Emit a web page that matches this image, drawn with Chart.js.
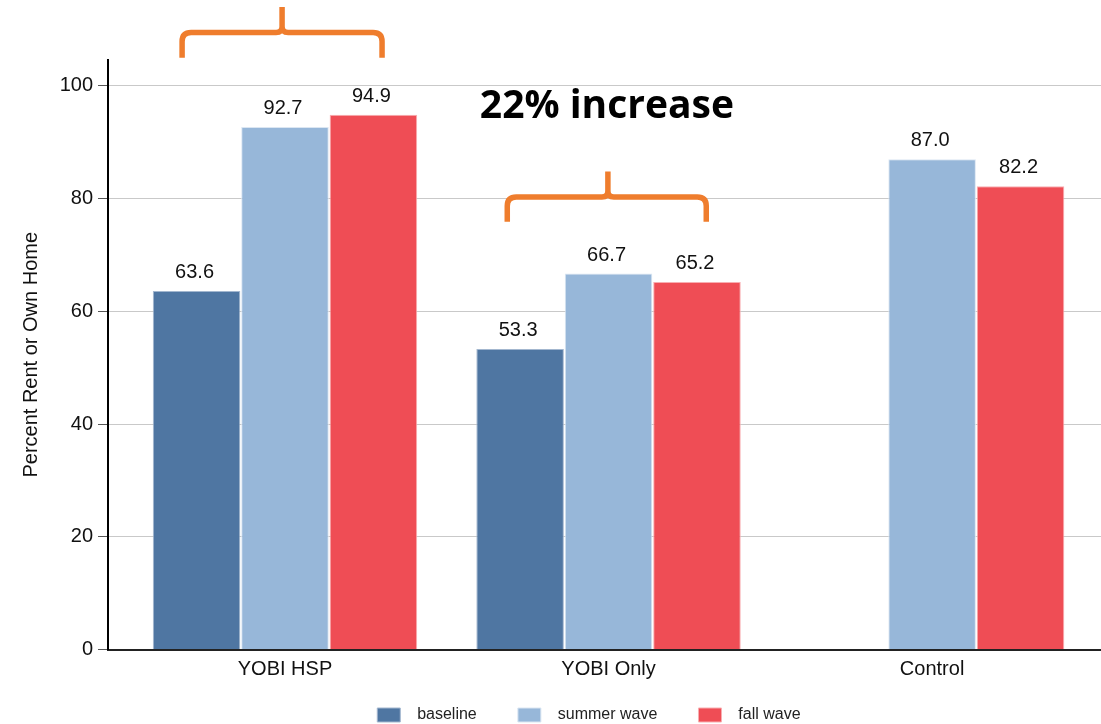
<!DOCTYPE html>
<html>
<head>
<meta charset="utf-8">
<script src="https://cdn.jsdelivr.net/npm/chart.js@4.4.1/dist/chart.umd.min.js"></script>
<style>
  html, body { margin: 0; padding: 0; background: #fff; }
  #wrap { width: 1101px; height: 724px; position: relative; }
</style>
</head>
<body>
<div id="wrap"><canvas id="rentChart"></canvas></div>
<script>
// values
const categories = ["YOBI HSP", "YOBI Only", "Control"];
const baseline = [63.6, 53.3, null];
const summerWave = [92.7, 66.7, 87.0];
const fallWave = [94.9, 65.2, 82.2];
const yTicks = [0, 20, 40, 60, 80, 100];

const toPoints = arr => arr.map((v, i) => ({ x: i, y: v }));

// numbers above bars
const valueLabels = {
  id: "valueLabels",
  afterDatasetsDraw(chart) {
    const ctx = chart.ctx;
    ctx.save();
    ctx.font = '20px "Liberation Sans", Arial, sans-serif';
    ctx.fillStyle = "#111";
    ctx.textAlign = "center";
    ctx.textBaseline = "alphabetic";
    chart.data.datasets.forEach((ds, i) => {
      chart.getDatasetMeta(i).data.forEach((bar, j) => {
        const v = ds.data[j].y;
        if (v == null) return;
        ctx.fillText(v.toFixed(1), bar.x - 2, bar.y - 13);
      });
    });
    ctx.restore();
  }
};

// orange braces + "22% increase" note
const notes = {
  id: "notes",
  afterDraw(chart) {
    const { ctx, scales: { x, y } } = chart;
    const braces = [
      { x1: -0.318, xm: -0.009, x2: 0.300, yLine: 109.5, yEnd: 105.0, yTip: 114.0 },
      { x1: 0.687, xm: 0.998, x2: 1.302, yLine: 80.3, yEnd: 75.9, yTip: 84.8 }
    ];
    ctx.save();
    ctx.strokeStyle = "#ef7d2d";
    ctx.lineWidth = 5.5;
    braces.forEach(b => {
      const x1 = x.getPixelForValue(b.x1);
      const xm = x.getPixelForValue(b.xm);
      const x2 = x.getPixelForValue(b.x2);
      const yl = y.getPixelForValue(b.yLine);
      const ye = y.getPixelForValue(b.yEnd);
      const yt = y.getPixelForValue(b.yTip);
      const r = 9, r2 = 6;
      ctx.beginPath();
      ctx.moveTo(x1, ye);
      ctx.lineTo(x1, yl + r);
      ctx.quadraticCurveTo(x1, yl, x1 + r, yl);
      ctx.lineTo(xm - r2, yl);
      ctx.quadraticCurveTo(xm, yl, xm, yl - r2);
      ctx.lineTo(xm, yt);
      ctx.moveTo(xm, yl - r2);
      ctx.quadraticCurveTo(xm, yl, xm + r2, yl);
      ctx.lineTo(x2 - r, yl);
      ctx.quadraticCurveTo(x2, yl, x2, yl + r);
      ctx.lineTo(x2, ye);
      ctx.stroke();
    });

    ctx.font = 'bold 39px "Open Sans", Lato, sans-serif';
    ctx.fillStyle = "#000";
    ctx.textAlign = "center";
    ctx.textBaseline = "alphabetic";
    ctx.fillText("22% increase", x.getPixelForValue(0.995), y.getPixelForValue(94.3));
    ctx.restore();
  }
};

Chart.defaults.font.family = '"Liberation Sans", Arial, sans-serif';
Chart.defaults.color = "#111";

// legend spacing: wider gap between box and text, and between items
const legendLabels = chart =>
  Chart.defaults.plugins.legend.labels.generateLabels(chart).map(item => {
    item.text = "  " + item.text + "       ";
    return item;
  });

new Chart(document.getElementById("rentChart"), {
  type: "bar",
  data: {
    datasets: [
      {
        label: "baseline",
        data: toPoints(baseline),
        backgroundColor: "#4f76a2",
        borderColor: "#a3b7cf",
        borderWidth: 1
      },
      {
        label: "summer wave",
        data: toPoints(summerWave),
        backgroundColor: "#97b7d9",
        borderColor: "#dbe6f2",
        borderWidth: 1
      },
      {
        label: "fall wave",
        data: toPoints(fallWave),
        backgroundColor: "#ef4d55",
        borderColor: "#f8aeb1",
        borderWidth: 1
      }
    ]
  },
  options: {
    responsive: true,
    maintainAspectRatio: false,
    animation: false,
    categoryPercentage: 0.82,
    barPercentage: 0.99,
    layout: { padding: { top: 60, left: 0, right: 0, bottom: 0 } },
    plugins: {
      tooltip: { enabled: false },
      legend: {
        position: "bottom",
        fullSize: false,
        maxHeight: 27,
        labels: {
          boxWidth: 23,
          boxHeight: 14,
          padding: 10,
          color: "#222",
          font: { size: 16 },
          generateLabels: legendLabels
        }
      }
    },
    scales: {
      x: {
        type: "linear",
        min: -0.547,
        max: 2.522,
        offset: false,
        afterBuildTicks: axis => { axis.ticks = categories.map((c, i) => ({ value: i })); },
        afterFit: axis => { axis.height = 47.5; },
        ticks: {
          padding: 8,
          font: { size: 20 },
          color: "#111",
          callback: v => categories[v]
        },
        grid: { display: false, drawTicks: false },
        border: { display: true, color: "#222", width: 2 }
      },
      y: {
        min: 0,
        max: 104.6,
        afterBuildTicks: axis => { axis.ticks = yTicks.map(v => ({ value: v })); },
        afterFit: axis => { axis.width = 108; },
        ticks: { padding: 5, font: { size: 20 }, color: "#111" },
        grid: { color: "#c9c9c9", tickColor: "#555", tickLength: 10 },
        border: { color: "#000", width: 2 },
        title: {
          display: true,
          text: "Percent Rent or Own Home",
          font: { size: 20 },
          color: "#111",
          padding: { top: 19, bottom: 0 }
        }
      }
    }
  },
  plugins: [valueLabels, notes]
});
</script>
</body>
</html>
